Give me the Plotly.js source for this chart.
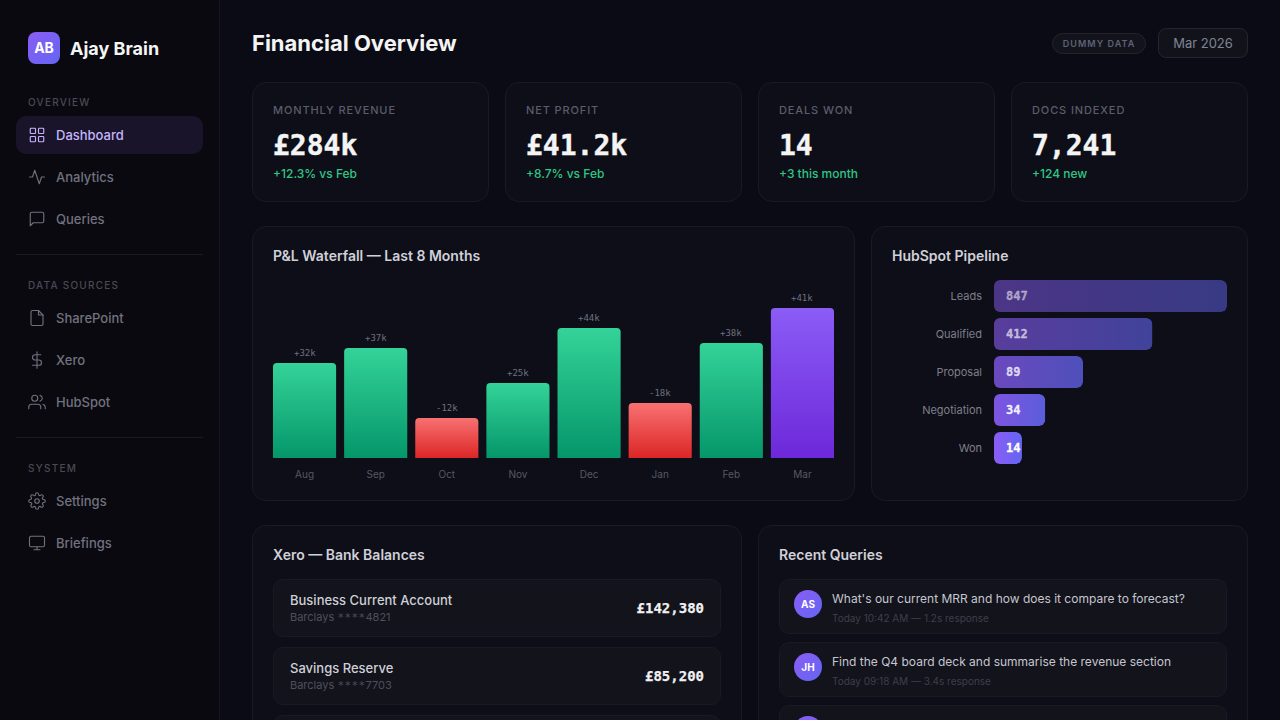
<!DOCTYPE html>
<html><head><meta charset="utf-8">
<script src="https://cdn.plot.ly/plotly-3.0.1.min.js"></script>
<style>
*{box-sizing:border-box;margin:0;padding:0}
html,body{width:1280px;height:720px;overflow:hidden;background:#0a0b14;font-family:Inter,sans-serif}
.a{position:absolute;white-space:nowrap}
.side{position:absolute;left:0;top:0;width:220px;height:720px;background:#09090f;border-right:1px solid #15161f}
.logo{left:28px;top:32px;width:32px;height:32px;border-radius:8px;background:linear-gradient(135deg,#8b5cf6,#6366f1);color:#fff;font-weight:700;font-size:14px;line-height:32px;text-align:center}
.brand{left:70px;top:38px;font-size:18px;font-weight:700;color:#f4f4f5;line-height:22px}
.sec{left:28px;font-size:10px;letter-spacing:1.25px;color:#4a4a55;font-weight:500;line-height:12px}
.nav{left:56px;font-size:13px;font-weight:500;color:#71717f;line-height:16px}
.ico{left:28px;width:18px;height:18px;fill:none;stroke:#71717f;stroke-width:1.5;stroke-linecap:round;stroke-linejoin:round}
.active{left:16px;top:116px;width:187px;height:38px;border-radius:10px;background:#191429}
.hr{left:16px;width:187px;height:1px;background:#191a22}
.title{left:252px;top:30px;font-size:22px;font-weight:700;color:#f4f4f5;line-height:27px}
.badge{left:1052px;top:33px;width:94px;height:21px;border-radius:11px;background:#13141b;border:1px solid #22232c;font-size:9px;font-weight:600;letter-spacing:1.05px;color:#5d6378;text-align:center;line-height:20px}
.date{left:1158px;top:28px;width:90px;height:30px;border-radius:8px;background:#12131a;border:1px solid #24252e;font-size:13px;color:#7f8494;text-align:center;line-height:28px}
.card{background:#0d0e17;border:1px solid #191a22;border-radius:14px}
.kl{font-size:11px;letter-spacing:.88px;color:#5c5c6b;font-weight:500;line-height:14px;top:103px}
.kv{font-family:"DejaVu Sans Mono",monospace;font-weight:700;font-size:28px;color:#f4f4f5;top:128.5px;line-height:34px;-webkit-text-stroke:.4px #f4f4f5}
.ks{font-size:12px;font-weight:500;color:#2fc686;top:166px;line-height:15px}
.pt{font-size:14px;font-weight:600;color:#d0d0d8;line-height:18px}
.row{background:#12131b;border:1px solid #191a22;border-radius:10px}
.bn{left:290px;font-size:13px;font-weight:500;color:#cfcfd6;line-height:16px}
.bs{left:290px;font-size:11px;color:#4f4f5c;line-height:14px}
.bs span{font-family:"DejaVu Sans Mono",monospace;letter-spacing:.4px}
.ba{right:576px;font-family:"DejaVu Sans Mono",monospace;font-weight:700;font-size:14px;color:#f0f0f2;line-height:18px;-webkit-text-stroke:.25px #f0f0f2}
.av{left:794px;width:28px;height:28px;border-radius:50%;background:linear-gradient(135deg,#8b5cf6,#6366f1);color:#fff;font-size:10px;font-weight:700;text-align:center;line-height:28px}
.qt{left:832px;font-size:12px;font-weight:400;color:#c6c6d0;line-height:16px}
.qs{left:832px;font-size:10px;color:#3f3f4a;line-height:14px}
#pl{position:absolute;left:273px;top:280px;width:561px;height:205px}
#pipe{position:absolute;left:892px;top:280px;width:335px;height:184px}
</style></head><body>
<svg width="0" height="0" style="position:absolute"><defs>
<linearGradient id="gUp" x1="0" y1="0" x2="0" y2="1"><stop offset="0" stop-color="#34d399"/><stop offset="1" stop-color="#059669"/></linearGradient>
<linearGradient id="gDown" x1="0" y1="0" x2="0" y2="1"><stop offset="0" stop-color="#f87171"/><stop offset="1" stop-color="#dc2626"/></linearGradient>
<linearGradient id="gNow" x1="0" y1="0" x2="0" y2="1"><stop offset="0" stop-color="#8b5cf6"/><stop offset="1" stop-color="#6d28d9"/></linearGradient>
<linearGradient id="gPipe" x1="0" y1="0" x2="1" y2="0"><stop offset="0" stop-color="#8b5cf6"/><stop offset="1" stop-color="#6366f1"/></linearGradient>
</defs></svg>

<div class="side"></div>
<div class="a logo">AB</div><div class="a brand">Ajay Brain</div>
<div class="a sec" style="top:96px">OVERVIEW</div>
<div class="a active"></div>
<svg class="a ico" style="top:126px;stroke:#c4b5fd" viewBox="0 0 24 24"><rect x="3" y="3" width="7" height="7" rx="1"/><rect x="14" y="3" width="7" height="7" rx="1"/><rect x="3" y="14" width="7" height="7" rx="1"/><rect x="14" y="14" width="7" height="7" rx="1"/></svg>
<div class="a nav" style="top:127px;color:#c4b5fd">Dashboard</div>
<svg class="a ico" style="top:168px" viewBox="0 0 24 24"><path d="M22 12h-4l-3 9L9 3l-3 9H2"/></svg>
<div class="a nav" style="top:169px">Analytics</div>
<svg class="a ico" style="top:210px" viewBox="0 0 24 24"><path d="M21 15a2 2 0 0 1-2 2H7l-4 4V5a2 2 0 0 1 2-2h14a2 2 0 0 1 2 2z"/></svg>
<div class="a nav" style="top:211px">Queries</div>
<div class="a hr" style="top:254px"></div>
<div class="a sec" style="top:279px">DATA SOURCES</div>
<svg class="a ico" style="top:309px" viewBox="0 0 24 24"><path d="M14 2H6a2 2 0 0 0-2 2v16a2 2 0 0 0 2 2h12a2 2 0 0 0 2-2V8z"/><path d="M14 2v6h6"/></svg>
<div class="a nav" style="top:310px">SharePoint</div>
<svg class="a ico" style="top:351px" viewBox="0 0 24 24"><path d="M12 1v22"/><path d="M17 5H9.5a3.5 3.5 0 0 0 0 7h5a3.5 3.5 0 0 1 0 7H6"/></svg>
<div class="a nav" style="top:352px">Xero</div>
<svg class="a ico" style="top:393px" viewBox="0 0 24 24"><path d="M17 21v-2a4 4 0 0 0-4-4H5a4 4 0 0 0-4 4v2"/><circle cx="9" cy="7" r="4"/><path d="M23 21v-2a4 4 0 0 0-3-3.87"/><path d="M16 3.13a4 4 0 0 1 0 7.75"/></svg>
<div class="a nav" style="top:394px">HubSpot</div>
<div class="a hr" style="top:437px"></div>
<div class="a sec" style="top:462px">SYSTEM</div>
<svg class="a ico" style="top:492px" viewBox="0 0 24 24"><circle cx="12" cy="12" r="3"/><path d="M19.4 15a1.65 1.65 0 0 0 .33 1.82l.06.06a2 2 0 1 1-2.83 2.83l-.06-.06a1.65 1.65 0 0 0-2.82 1.18V21a2 2 0 1 1-4 0v-.09a1.65 1.65 0 0 0-2.82-1.17l-.06.06a2 2 0 1 1-2.83-2.83l.06-.06A1.65 1.65 0 0 0 3.09 14H3a2 2 0 1 1 0-4h.09a1.65 1.65 0 0 0 1.17-2.82l-.06-.06a2 2 0 1 1 2.83-2.83l.06.06A1.65 1.65 0 0 0 10 3.09V3a2 2 0 1 1 4 0v.09a1.65 1.65 0 0 0 2.82 1.17l.06-.06a2 2 0 1 1 2.83 2.83l-.06.06A1.65 1.65 0 0 0 20.91 10H21a2 2 0 1 1 0 4h-.09a1.65 1.65 0 0 0-1.51 1z"/></svg>
<div class="a nav" style="top:493px">Settings</div>
<svg class="a ico" style="top:534px" viewBox="0 0 24 24"><rect x="2" y="3" width="20" height="14" rx="2"/><path d="M8 21h8M12 17v4"/></svg>
<div class="a nav" style="top:535px">Briefings</div>

<div class="a title">Financial Overview</div>
<div class="a badge">DUMMY DATA</div><div class="a date">Mar 2026</div>

<div class="a card" style="left:252px;top:82px;width:237px;height:120px"></div>
<div class="a card" style="left:505px;top:82px;width:237px;height:120px"></div>
<div class="a card" style="left:758px;top:82px;width:237px;height:120px"></div>
<div class="a card" style="left:1011px;top:82px;width:237px;height:120px"></div>
<div class="a kl" style="left:273px">MONTHLY REVENUE</div><div class="a kv" style="left:273px">£284k</div><div class="a ks" style="left:273px">+12.3% vs Feb</div>
<div class="a kl" style="left:526px">NET PROFIT</div><div class="a kv" style="left:526px">£41.2k</div><div class="a ks" style="left:526px">+8.7% vs Feb</div>
<div class="a kl" style="left:779px">DEALS WON</div><div class="a kv" style="left:779px">14</div><div class="a ks" style="left:779px">+3 this month</div>
<div class="a kl" style="left:1032px">DOCS INDEXED</div><div class="a kv" style="left:1032px">7,241</div><div class="a ks" style="left:1032px">+124 new</div>

<div class="a card" style="left:252px;top:226px;width:603px;height:275px"></div>
<div class="a pt" style="left:273px;top:247px">P&amp;L Waterfall — Last 8 Months</div>
<div id="pl"></div>
<div class="a card" style="left:871px;top:226px;width:377px;height:275px"></div>
<div class="a pt" style="left:892px;top:247px">HubSpot Pipeline</div>
<div id="pipe"></div>

<div class="a card" style="left:252px;top:525px;width:490px;height:260px"></div>
<div class="a pt" style="left:273px;top:546px">Xero — Bank Balances</div>
<div class="a row" style="left:273px;top:579px;width:448px;height:58px"></div>
<div class="a bn" style="top:592px">Business Current Account</div><div class="a bs" style="top:610px">Barclays <span>****</span>4821</div><div class="a ba" style="top:599px">£142,380</div>
<div class="a row" style="left:273px;top:647px;width:448px;height:58px"></div>
<div class="a bn" style="top:660px">Savings Reserve</div><div class="a bs" style="top:678px">Barclays <span>****</span>7703</div><div class="a ba" style="top:667px">£85,200</div>
<div class="a row" style="left:273px;top:715px;width:448px;height:58px"></div>

<div class="a card" style="left:758px;top:525px;width:490px;height:260px"></div>
<div class="a pt" style="left:779px;top:546px">Recent Queries</div>
<div class="a row" style="left:779px;top:579px;width:448px;height:55px"></div>
<div class="a av" style="top:590px">AS</div><div class="a qt" style="top:591px">What's our current MRR and how does it compare to forecast?</div><div class="a qs" style="top:611px">Today 10:42 AM — 1.2s response</div>
<div class="a row" style="left:779px;top:642px;width:448px;height:55px"></div>
<div class="a av" style="top:653px">JH</div><div class="a qt" style="top:654px">Find the Q4 board deck and summarise the revenue section</div><div class="a qs" style="top:674px">Today 09:18 AM — 3.4s response</div>
<div class="a row" style="left:779px;top:705px;width:448px;height:55px"></div>
<div class="a av" style="top:716px"></div>

<script>
const months = ["Aug","Sep","Oct","Nov","Dec","Jan","Feb","Mar"];
const barHeights = [95,110,40,75,130,55,115,150];
const barLabels = ["+32k","+37k","-12k","+25k","+44k","-18k","+38k","+41k"];
const stages = ["Leads","Qualified","Proposal","Negotiation","Won"];
const stageShare = [100,68,38.2,22,12];
const stageCounts = ["847","412","89","34","14"];
const rowFade = [0.5,0.6,0.75,0.9,1];

const MONO = '"DejaVu Sans Mono",monospace';
const barW = 0.8875;
const cfg = {displayModeBar:false, staticPlot:true};

Plotly.newPlot('pl', [{
  type:'bar', x:months, y:barHeights, cliponaxis:false,
  marker:{color:'#34d399', cornerradius:4, line:{width:0}}, hoverinfo:'skip'
}], {
  width:561, height:205, margin:{l:0,r:0,t:28,b:27}, paper_bgcolor:'rgba(0,0,0,0)', plot_bgcolor:'rgba(0,0,0,0)',
  bargap:1-barW, showlegend:false, font:{family:'Inter'},
  xaxis:{type:'category', range:[-barW/2, months.length-1+barW/2], showgrid:false, zeroline:false, showline:false, ticks:'', ticklabelstandoff:9, tickfont:{family:'Inter', size:10, color:'#565866'}},
  yaxis:{range:[0,150], visible:false, showgrid:false, zeroline:false},
  annotations: months.map((m,i)=>({xref:'x', yref:'y', x:m, y:barHeights[i], yanchor:'bottom', yshift:3, showarrow:false, text:barLabels[i],
    font:{family:MONO, size:9, color:'#6f7180'}}))
}, cfg).then(gd=>{
  gd.querySelectorAll('.bars .point path').forEach((p,i)=>{
    const g = i===months.length-1 ? 'gNow' : (barLabels[i][0]==='-' ? 'gDown' : 'gUp');
    p.style.fill = 'url(#'+g+')';
  });
});

const pipeW = 32/38;
Plotly.newPlot('pipe', [{
  type:'bar', orientation:'h', y:stages, x:stageShare,
  marker:{color:'#8b5cf6', opacity:rowFade, cornerradius:6, line:{width:0}}, hoverinfo:'skip'
}], {
  width:335, height:184, margin:{l:102,r:0,t:0,b:0}, paper_bgcolor:'rgba(0,0,0,0)', plot_bgcolor:'rgba(0,0,0,0)',
  bargap:1-pipeW, showlegend:false, font:{family:'Inter'},
  xaxis:{range:[0,100], visible:false, showgrid:false, zeroline:false},
  yaxis:{type:'category', range:[stages.length-1+pipeW/2, -pipeW/2], showgrid:false, zeroline:false, showline:false, ticks:'', ticklabelstandoff:11, tickfont:{family:'Inter', size:11, color:'#7f7f8c'}},
  annotations: stages.map((s,i)=>({xref:'x', yref:'y', x:0, y:s, xanchor:'left', xshift:10, showarrow:false, text:stageCounts[i],
    font:{family:MONO, size:12, weight:700, color:'rgba(255,255,255,'+rowFade[i]+')'}}))
}, cfg).then(gd=>{
  gd.querySelectorAll('.bars .point path').forEach(p=>{
    p.style.fill = 'url(#gPipe)';
    p.style.clipPath = 'inset(0 round 6px)';
  });
  gd.querySelectorAll('.annotation-text').forEach((t,i)=>{
    t.style.stroke = '#ffffff';
    t.style.strokeOpacity = rowFade[i];
    t.style.strokeWidth = '0.3px';
  });
});
</script>
</body></html>
